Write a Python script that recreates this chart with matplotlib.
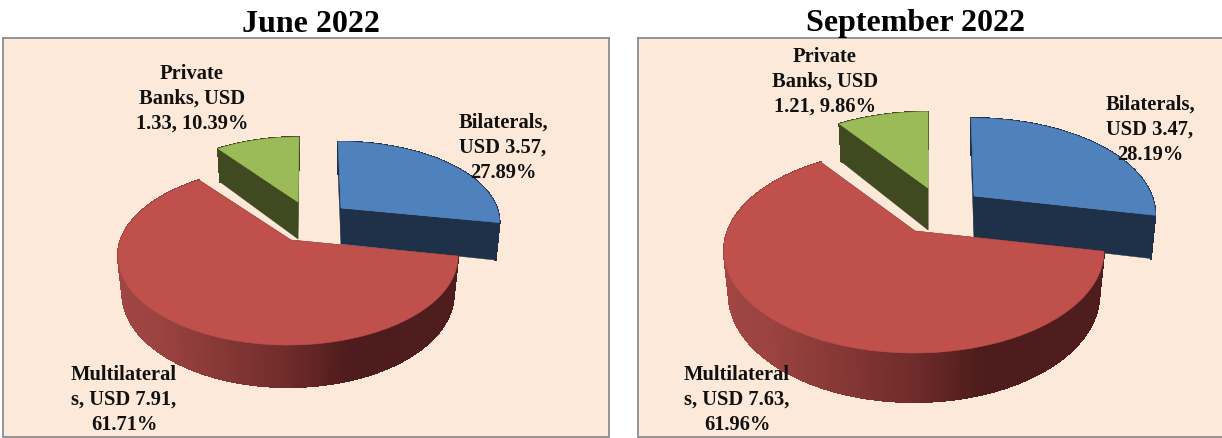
import numpy as np
import matplotlib
matplotlib.use("Agg")
import matplotlib.pyplot as plt
from matplotlib.patches import Polygon
from matplotlib.collections import PolyCollection
from matplotlib.colors import LinearSegmentedColormap

W, H = 1222, 439

categories = ["Bilaterals", "Multilaterals", "Private Banks"]
titles = ["June 2022", "September 2022"]
june_pct = [27.89, 61.71, 10.39]
sept_pct = [28.19, 61.96, 9.86]
june_labels = ["Bilaterals,\nUSD 3.57,\n27.89%", "Multilateral\ns, USD 7.91,\n61.71%", "Private\nBanks, USD\n1.33, 10.39%"]
sept_labels = ["Bilaterals,\nUSD 3.47,\n28.19%", "Multilateral\ns, USD 7.63,\n61.96%", "Private\nBanks, USD\n1.21, 9.86%"]

TOP = ["#4F81BD", "#BF504C", "#9BBB59"]
WALL = ["#1E3149", "#4F1D1D", "#3F4A20"]
BG = "#FDE9D9"
EDGE = "#8C8C8C"
FONT = "Liberation Serif"
side_cmap = LinearSegmentedColormap.from_list(
    "side", [(0, "#A04643"), (0.12, "#9A4340"), (0.5, "#702C2B"), (0.68, "#4E1C1C"), (1, "#4F1D1D")])
TAPER = 0.975

layouts = [
    dict(box=(2.5, 39, 609, 437.5), A=170, B=89, k=0.18, depth=42, arc_dx=[-3, -3, 1],
         apex=[(341, 209), (291, 241), (298, 203)], scale=[0.95, 1.0, 0.91], scale_y=[0.91, 1.0, 0.89],
         drop=[36, 0, 37],
         title_x=311, label_xy=[(503, 148), (124, 400), (192, 99)]),
    dict(box=(638, 39, 1226, 437.5), A=190, B=102, k=0.196, depth=49, arc_dx=[-3, -1, 0],
         apex=[(974, 197), (915, 232), (928, 189)], scale=[0.97, 1.0, 0.95], scale_y=[0.95, 1.0, 0.93],
         drop=[42, 0, 42],
         title_x=915, label_xy=[(1150, 130), (737, 400), (825, 82)]),
]


def project(theta, L, i):
    """Perspective view of points on the pie rim, in pixels relative to the slice apex."""
    k = L["k"]
    R = L["A"] * np.sqrt(1 - k ** 2) * L["scale"][i]
    a = L["B"] * (1 - k ** 2) * L["scale_y"][i]
    u, v = np.sin(theta), np.cos(theta)
    s = 1 / (1 + k * v)
    return R * u * s, -a * v * s, s


def draw_pie(ax, pct, labels, L):
    pct = np.asarray(pct, float)
    edges = np.concatenate([[0], np.cumsum(pct) / pct.sum() * 2 * np.pi])
    k = L["k"]
    for i in [2, 0, 1]:
        t = np.linspace(edges[i], edges[i + 1], 180)
        X, Y, s = project(t, L, i)
        ax_, ay_ = L["apex"][i]
        x, y = ax_ + L["arc_dx"][i] + X, ay_ + Y
        xb = ax_ + (x - ax_) * TAPER
        d = L["depth"] * (s * (1 - k)) ** 0.7
        ad = L["drop"][i] if L["drop"][i] else L["depth"] * (1 - k) ** 0.7
        # straight cut walls
        for j in (0, -1):
            ax.add_patch(Polygon([(ax_, ay_), (x[j], y[j]), (xb[j], y[j] + d[j]), (ax_, ay_ + ad)],
                                 closed=True, fc=WALL[i], ec=WALL[i], lw=0.3, zorder=2))
        # rim wall
        quads = [[(x[n], y[n]), (x[n + 1], y[n + 1]), (xb[n + 1], y[n + 1] + d[n + 1]), (xb[n], y[n] + d[n])]
                 for n in range(len(t) - 1)]
        if i == 1:
            frac = (x[:-1] - x.min()) / (x.max() - x.min())
            cols = side_cmap(frac)
        else:
            cols = [WALL[i]] * len(quads)
        ax.add_collection(PolyCollection(quads, facecolors=cols, edgecolors=cols, linewidths=0.8,
                                         antialiaseds=False, zorder=2))
        # top face
        pts = np.vstack([[ax_, ay_], np.column_stack([x, y])])
        ax.add_patch(Polygon(pts, closed=True, fc=TOP[i], ec=TOP[i], lw=0.4, zorder=2))
    for lab, (lx, ly) in zip(labels, L["label_xy"]):
        ax.text(lx, ly, lab, ha="center", va="center", family=FONT, fontweight="bold",
                fontsize=14.8, linespacing=1.33, color="#111111", zorder=5)


fig = plt.figure(figsize=(W / 100, H / 100), dpi=100, facecolor="white")
for title, pct, labels, L in zip(titles, [june_pct, sept_pct], [june_labels, sept_labels], layouts):
    x0, y0, x1, y1 = L["box"]
    ax = fig.add_axes([x0 / W, 1 - y1 / H, (x1 - x0) / W, (y1 - y0) / H])
    ax.set_xlim(x0, x1)
    ax.set_ylim(y1, y0)
    ax.set_xticks([])
    ax.set_yticks([])
    ax.set_facecolor(BG)
    for sp in ax.spines.values():
        sp.set_edgecolor(EDGE)
        sp.set_linewidth(1.3)
    draw_pie(ax, pct, labels, L)
    fig.text(L["title_x"] / W, 1 - 24 / H, title, ha="center", va="center", family=FONT,
             fontweight="bold", fontsize=23, color="#000000")

fig.savefig("out.png", dpi=100)
